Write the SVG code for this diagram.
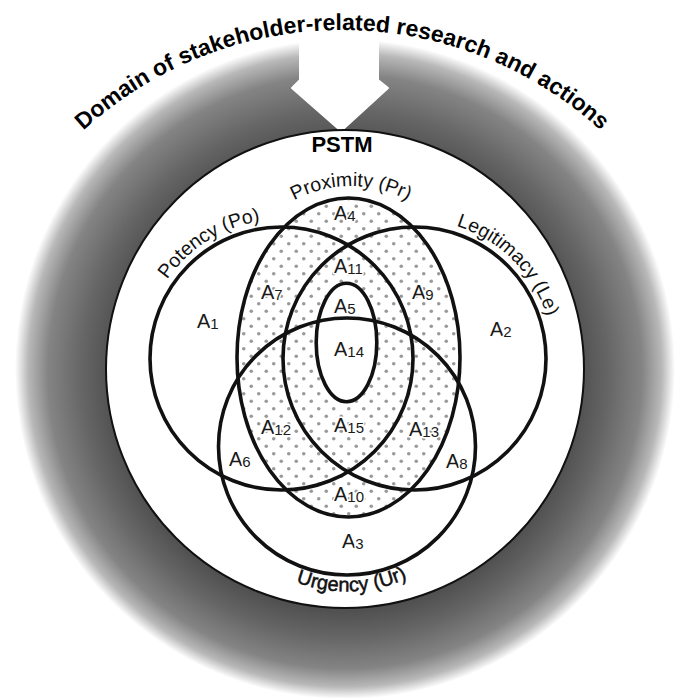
<svg xmlns="http://www.w3.org/2000/svg" width="683" height="698" viewBox="0 0 683 698">
<defs>
<radialGradient id="halo" gradientUnits="userSpaceOnUse" cx="345" cy="369" r="330" fx="345" fy="395">
<stop offset="0.70" stop-color="#4e4e4e"/>
<stop offset="0.80" stop-color="#666666"/>
<stop offset="0.90" stop-color="#848484"/>
<stop offset="0.96" stop-color="#b8b8b8"/>
<stop offset="1" stop-color="#ffffff"/>
</radialGradient>
<pattern id="dots" patternUnits="userSpaceOnUse" width="15" height="15">
<circle cx="3.75" cy="3.75" r="1.8" fill="#9a9a9a"/>
<circle cx="11.25" cy="11.25" r="1.8" fill="#9a9a9a"/>
</pattern>
<path id="pTitle" d="M28.3,193.3 A383,383 0 0 1 655.7,193.3"/>
<path id="pPo" d="M150.9,311 A139,139 0 0 1 295.6,220.2"/>
<path id="pLe" d="M426.6,220 A139,139 0 0 1 553,346.4"/>
<path id="pPr" d="M273.9,214.1 A120,120 0 0 1 428.1,214.1"/>
<path id="pUr" d="M253.8,557.6 A145,145 0 0 0 447.7,550.8"/>
</defs>
<style>
.ring{fill:none;stroke:#111;stroke-width:3.6}
.lbl{font-family:"Liberation Sans",Arial,sans-serif;font-size:20px;fill:#1a1a1a;stroke:#fff;stroke-width:3;paint-order:stroke;stroke-linejoin:round}
.sub{font-size:15px}
.cap{font-family:"Liberation Sans",Arial,sans-serif;font-size:19.5px;fill:#111}
.title{font-family:"Liberation Sans",Arial,sans-serif;font-weight:bold;font-size:23px;fill:#000}
</style>
<rect width="683" height="698" fill="#fff"/>
<g id="domain">
<circle cx="345" cy="369" r="330" fill="url(#halo)"/>
</g>
<g id="connectors">
<path d="M300,38 L378,38 L378,80 L388,88 L341,131 L292,88 L300,80 Z" fill="#fff" stroke="#fff" stroke-width="2" stroke-linejoin="round"/>
</g>
<g id="title">
<text class="title"><textPath href="#pTitle" startOffset="50%" text-anchor="middle">Domain of stakeholder-related research and actions</textPath></text>
</g>
<g id="pstm">
<circle cx="345" cy="369" r="239" fill="#fff" stroke="#111" stroke-width="2"/>
<text x="342" y="152" text-anchor="middle" style="font-family:'Liberation Sans',Arial,sans-serif;font-weight:bold;font-size:22px;fill:#000">PSTM</text>
</g>
<g id="proximity">
<ellipse cx="348.5" cy="357.5" rx="111.5" ry="159.5" fill="url(#dots)"/>
<ellipse cx="348.5" cy="357.5" rx="111.5" ry="159.5" class="ring"/>
<text class="cap"><textPath href="#pPr" startOffset="50%" text-anchor="middle">Proximity (Pr)</textPath></text>
</g>
<g id="core">
<ellipse cx="346.5" cy="342.5" rx="30.3" ry="59.2" fill="#fff" stroke="#111" stroke-width="3.6"/>
</g>
<g id="potency">
<circle cx="281.5" cy="358.5" r="131.5" class="ring"/>
<text class="cap"><textPath href="#pPo" startOffset="50%" text-anchor="middle">Potency (Po)</textPath></text>
</g>
<g id="legitimacy">
<circle cx="414.5" cy="358.5" r="131.5" class="ring"/>
<text class="cap"><textPath href="#pLe" startOffset="50%" text-anchor="middle">Legitimacy (Le)</textPath></text>
</g>
<g id="urgency">
<circle cx="347" cy="446.5" r="128.5" class="ring"/>
<text class="cap" style="font-size:20px;stroke:#111;stroke-width:0.5"><textPath href="#pUr" startOffset="50%" text-anchor="middle">Urgency (Ur)</textPath></text>
</g>
<g id="areas" class="lbl">
<text x="197" y="328">A<tspan class="sub" dy="1">1</tspan></text>
<text x="490" y="336">A<tspan class="sub" dy="1">2</tspan></text>
<text x="342" y="548">A<tspan class="sub" dy="1">3</tspan></text>
<text x="334" y="220">A<tspan class="sub" dy="1">4</tspan></text>
<text x="334" y="313">A<tspan class="sub" dy="1">5</tspan></text>
<text x="229" y="466">A<tspan class="sub" dy="1">6</tspan></text>
<text x="261" y="299">A<tspan class="sub" dy="1">7</tspan></text>
<text x="446" y="468">A<tspan class="sub" dy="1">8</tspan></text>
<text x="412" y="299">A<tspan class="sub" dy="1">9</tspan></text>
<text x="334" y="501">A<tspan class="sub" dy="1">10</tspan></text>
<text x="334" y="273">A<tspan class="sub" dy="1">11</tspan></text>
<text x="261" y="434">A<tspan class="sub" dy="1">12</tspan></text>
<text x="409" y="436">A<tspan class="sub" dy="1">13</tspan></text>
<text x="334" y="356">A<tspan class="sub" dy="1">14</tspan></text>
<text x="334" y="432">A<tspan class="sub" dy="1">15</tspan></text>
</g>
</svg>
